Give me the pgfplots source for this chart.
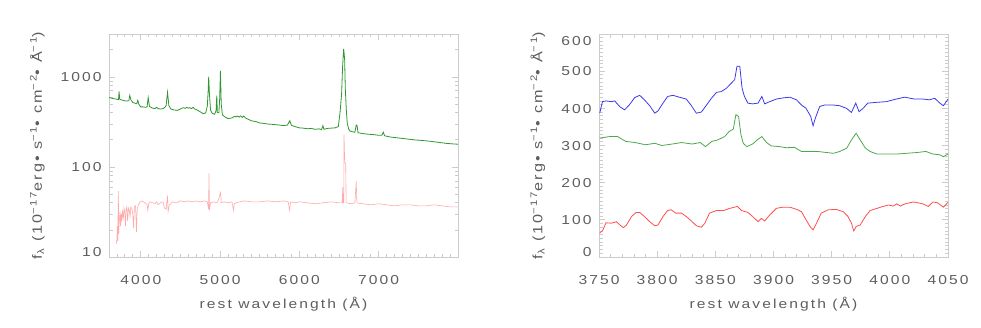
\documentclass[border=0pt]{standalone}
\usepackage{fontspec}
\setmainfont[LetterSpace=16, FakeStretch=1.2]{Liberation Sans}
\usepackage{pgfplots}
\pgfplotsset{compat=1.18}
\definecolor{boxgray}{HTML}{CCCCCC}
\definecolor{inkgray}{HTML}{5E5E5E}
\definecolor{hostgreen}{HTML}{2F972F}
\definecolor{starpink}{HTML}{FFAAAA}
\definecolor{specblue}{HTML}{3A3AEA}
\definecolor{specgreen}{HTML}{4CA84C}
\definecolor{specred}{HTML}{FF4E4E}

\pgfplotsset{
  idl/.style={
    scale only axis, width=349pt, height=223pt,
    axis line style={boxgray, line width=0.8pt}, tick style={boxgray, line width=0.8pt},
    major tick length=6pt, minor tick length=3.5pt, tick align=inside,
    tick label style={font=\fontsize{13}{15}\selectfont, text=inkgray},
    /pgf/number format/assume math mode=true,
    xticklabel style={anchor=base}, xticklabel shift=27pt,
    yticklabel style={anchor=base east, xshift=-4pt, yshift=-4.7pt},
    every axis x label/.style={at={(axis description cs:0.5,0)}, yshift=-47pt, anchor=center,
      font=\fontsize{13}{15}\selectfont, text=inkgray},
    every axis y label/.style={rotate=90, anchor=center,
      font=\fontsize{13.5}{15}\selectfont, text=inkgray},
    xlabel={rest wavelength (Å)},
    ylabel={f\textsubscript{λ} (10\textsuperscript{−17}erg• s\textsuperscript{−1}• cm\textsuperscript{−2}• Å\textsuperscript{−1})},
  }
}

\begin{document}
\begin{tikzpicture}
\path[use as bounding box] (0,0) rectangle (981pt,327pt);

% left: full spectrum, log scale
\begin{axis}[idl, at={(109pt,70pt)}, anchor=south west,
  ymode=log, xmin=3600, xmax=8000, ymin=10, ymax=3000,
  xtick={4000,5000,6000,7000}, xticklabels={4000,5000,6000,7000},
  minor xtick={3600,3700,...,8000},
  ytick={10,100,1000}, yticklabels={\raisebox{5pt}{10},100,1000},
  minor ytick={20,30,40,50,60,70,80,90,200,300,400,500,600,700,800,900,2000,3000},
  ylabel style={at={(axis description cs:-0.205,0.5)}},
]
\addplot[hostgreen, line width=0.8pt] coordinates {
(3600,590) (3620,585) (3650,575) (3680,570) (3700,565) (3720,560) (3727,690) (3735,565)
(3760,555) (3790,545) (3820,540) (3850,545) (3862,625) (3875,560) (3900,520) (3930,510)
(3950,505) (3963,550) (3975,500) (4000,465) (4030,465) (4060,460) (4080,465) (4094,590)
(4110,470) (4150,450) (4180,445) (4200,460) (4220,445) (4250,440) (4280,445) (4300,455)
(4320,480) (4338,676) (4355,480) (4380,440) (4420,430) (4460,425) (4500,440) (4520,450)
(4540,455) (4560,448) (4580,460) (4600,450) (4620,455) (4640,445) (4660,460) (4680,440)
(4700,435) (4730,420) (4760,405) (4790,390) (4820,400) (4840,480) (4850,700) (4857,1008)
(4866,650) (4880,430) (4900,395) (4930,385) (4950,420) (4959,620) (4966,400) (4985,400)
(4995,560) (5005,1166) (5015,500) (5030,380) (5060,360) (5100,345) (5150,350) (5180,365)
(5200,360) (5220,368) (5240,358) (5260,370) (5280,355) (5300,368) (5320,350) (5350,340)
(5400,325) (5450,320) (5500,308) (5550,305) (5600,300) (5650,298) (5700,295) (5750,292)
(5800,288) (5850,292) (5879,327) (5900,290) (5950,280) (6000,272) (6050,270) (6100,266)
(6150,268) (6200,262) (6250,265) (6280,260) (6297,288) (6310,262) (6350,268) (6400,270)
(6450,272) (6491,281) (6512,395) (6533,659) (6545,1300) (6558,2047) (6565,1800) (6571,1545)
(6579,748) (6592,430) (6604,306) (6621,265) (6640,250) (6680,245) (6700,243) (6717,293)
(6727,290) (6740,240) (6800,235) (6850,232) (6900,230) (6950,228) (7000,225) (7040,225)
(7058,243) (7075,222) (7150,215) (7250,210) (7350,205) (7450,200) (7550,197) (7650,193)
(7750,188) (7850,183) (7950,180) (8000,179)
};
\addplot[starpink, line width=0.6pt] coordinates {
(3692,14) (3700,16) (3705,22) (3710,15) (3718,54) (3722,18) (3730,25) (3740,32)
(3745,22) (3755,30) (3760,25) (3770,33) (3780,26) (3790,35) (3800,31) (3808,22)
(3815,34) (3825,36) (3835,25) (3845,35) (3855,33) (3865,28) (3875,36) (3890,34)
(3900,30) (3910,21) (3920,36) (3935,37) (3946,19) (3955,34) (3970,38) (3985,40)
(4000,41) (4020,42) (4050,40) (4070,39) (4080,38) (4090,33) (4100,39) (4120,41)
(4150,40) (4180,39) (4200,41) (4220,38) (4250,40) (4280,41) (4300,35) (4320,34)
(4338,48) (4345,32) (4360,38) (4380,39) (4400,41) (4450,40) (4500,42) (4550,41)
(4600,42) (4650,41) (4700,42) (4750,41) (4800,42) (4840,41) (4855,34) (4861,85)
(4866,33) (4880,40) (4920,41) (4960,40) (4975,42) (5007,52) (5015,40) (5050,41)
(5100,40) (5150,41) (5170,33) (5180,39) (5200,40) (5250,41) (5300,42) (5400,41)
(5500,41) (5600,42) (5700,41) (5800,42) (5860,41) (5876,33) (5890,41) (5950,40)
(6000,41) (6100,40) (6200,39) (6300,40) (6400,41) (6500,40) (6540,40) (6548,60)
(6552,40) (6560,40) (6563,228) (6568,150) (6575,110) (6584,110) (6590,40) (6650,39)
(6700,40) (6717,69) (6725,40) (6800,39) (6900,38) (7000,39) (7100,38) (7200,37)
(7300,38) (7400,38) (7500,37) (7600,37) (7700,38) (7800,37) (7900,36) (8000,36)
};
\end{axis}

% right: zoom on 3750-4050
\begin{axis}[idl, at={(599pt,70pt)}, anchor=south west,
  xmin=3750, xmax=4050, ymin=0, ymax=600,
  xtick={3750,3800,...,4050}, xticklabels={3750,3800,3850,3900,3950,4000,4050},
  minor xtick={3750,3760,...,4050},
  ytick={0,100,...,600}, yticklabels={\raisebox{5pt}{0},100,200,300,400,500,\raisebox{-7pt}{600}},
  minor ytick={0,10,...,600},
  ylabel style={at={(axis description cs:-0.175,0.5)}},
]
\addplot[specblue, line width=0.8pt] coordinates {
(3750.6,387) (3753,418) (3756,420) (3760.6,418) (3763.5,420) (3768,404) (3772,396)
(3776,409) (3780.7,429) (3785,435) (3789,423) (3793.6,407) (3797.9,387) (3800.7,393)
(3805,414) (3809,432) (3813.6,435) (3819,430) (3825,425) (3829,409) (3833.7,387)
(3838,390) (3842,407) (3846.6,427) (3851,443) (3855,445) (3859.5,454) (3863.8,468)
(3866.6,477) (3868.6,513) (3871,513) (3873,454) (3875,432) (3878,414) (3882,412)
(3886.7,414) (3890,432) (3892.4,412) (3896.7,418) (3902.5,425) (3908,428) (3914,430)
(3919.7,423) (3924,409) (3928,400) (3932,378) (3934,353) (3936,374) (3939.7,405)
(3944,409) (3951,409) (3957,407) (3962.7,400) (3967,389) (3970.7,414) (3973.5,391)
(3977,400) (3981,414) (3988,416) (3997,418) (4005.6,425) (4012.8,430) (4021,425)
(4028.5,425) (4034,423) (4038.6,427) (4043,414) (4046,407) (4050,425)
};
\addplot[specgreen, line width=0.8pt] coordinates {
(3750.6,320) (3759,324) (3766,324) (3773,311) (3781,308) (3790,302) (3798,306)
(3804,300) (3813,304) (3821,308) (3830,304) (3837,308) (3841.5,297) (3847,311)
(3852,315) (3858,324) (3862,338) (3865.4,344) (3867.7,383) (3870,378) (3872,329)
(3874,306) (3877,297) (3882,304) (3886,315) (3890,324) (3894,308) (3898,299)
(3905,297) (3911,294) (3918,295) (3924,284) (3931,284) (3938,284) (3946,281)
(3951.5,279) (3957,284) (3963,293) (3967,315) (3971,333) (3974.5,315) (3979,293)
(3983,284) (3989,277) (3997,277) (4006,277) (4014,279) (4023,281) (4031,284)
(4037,277) (4043,275) (4046,270) (4050,277)
};
\addplot[specred, line width=0.8pt] coordinates {
(3750.6,64) (3753.4,73) (3756,92) (3760.6,91) (3765,95) (3768,86) (3771,79)
(3773.6,86) (3778,109) (3782,120) (3785,120) (3789,109) (3793.6,95) (3798,84)
(3800.7,86) (3805,109) (3809,125) (3812,127) (3816,118) (3821,118) (3825,109)
(3829,98) (3833.7,84) (3838,80) (3841,91) (3845,118) (3851,125) (3857,125)
(3862.6,131) (3869,136) (3872.5,125) (3878,120) (3882,109) (3886.7,95) (3889.6,104)
(3892.4,97) (3896.7,113) (3902.5,131) (3908,134) (3914,134) (3920,128) (3924,122)
(3928,100) (3931.4,82) (3934,73) (3937,91) (3941,118) (3947,127) (3954,128)
(3960,122) (3964,109) (3967,91) (3969,70) (3971,82) (3974.5,86) (3979,109)
(3983,125) (3989,131) (3994,136) (3999,140) (4003,137) (4006,143) (4009,137)
(4013,143) (4020,148) (4024,146) (4028.5,143) (4033,136) (4037,148) (4041,146)
(4046,134) (4050,147)
};
\end{axis}
\end{tikzpicture}
\end{document}
